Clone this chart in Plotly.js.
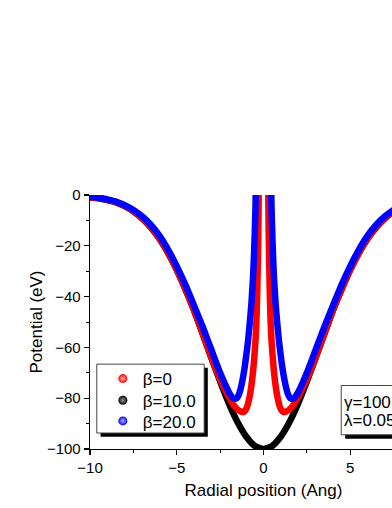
<!DOCTYPE html>
<html>
<head>
<meta charset="utf-8">
<script src="https://cdn.plot.ly/plotly-3.0.1.min.js"></script>
<style>
html, body { margin: 0; padding: 0; overflow: hidden; background: #fff; }
#plot { width: 460px; height: 508px; }
</style>
</head>
<body>
<div id="plot"></div>
<script>
// beta = 10.0 (black)
var xBlack = [-10,-9.5,-9,-8.5,-8,-7.5,-7,-6.5,-6,-5.5,-5,-4.5,-4,-3.5,-3,-2.5,-2,-1.5,-1,-0.5,0,
              0.5,1,1.5,2,2.5,3,3.5,4,4.5,5,5.5,6,6.5,7,7.5,8,8.5,9,9.5,10];
var yBlack = [-1.0,-1.3,-2.0,-2.9,-4.4,-6.4,-9.2,-12.7,-17.2,-22.8,-29.5,-37.2,-45.5,-54.8,-64.2,-73.4,-82.0,-89.4,-95.1,-98.8,-100,
              -98.8,-95.1,-89.4,-82.0,-73.4,-64.2,-54.8,-45.5,-37.2,-29.5,-22.8,-17.2,-12.7,-9.2,-6.4,-4.4,-2.9,-2.0,-1.3,-1.0];

// beta = 0 (red)
var xRed = [-10,-9.5,-9,-8.5,-8,-7.5,-7,-6.5,-6,-5.5,-5,-4.5,-4,-3.5,-3,-2.5,-2,-1.75,-1.5,-1.35,-1.25,-1.15,-1.05,-0.95,-0.85,-0.75,-0.65,-0.55,-0.45,-0.4,-0.36,-0.32,-0.29,-0.27,
            null,
            0.27,0.29,0.32,0.36,0.4,0.45,0.55,0.65,0.75,0.85,0.95,1.05,1.15,1.25,1.35,1.5,1.75,2,2.5,3,3.5,4,4.5,5,5.5,6,6.5,7,7.5,8,8.5,9,9.5,10];
var yRed = [-0.9,-1.2,-1.9,-2.8,-4.3,-6.3,-9.1,-12.6,-17.1,-22.7,-29.4,-37.1,-45.4,-54.7,-64,-72.6,-79.5,-82.4,-84.4,-85.1,-85.4,-85.4,-84.8,-83.5,-81,-77.5,-72.5,-65.5,-56,-48,-38,-24,-10,5,
            null,
            5,-10,-24,-38,-48,-56,-65.5,-72.5,-77.5,-81,-83.5,-84.8,-85.4,-85.4,-85.1,-84.4,-82.4,-79.5,-72.6,-64,-54.7,-45.4,-37.1,-29.4,-22.7,-17.1,-12.6,-9.1,-6.3,-4.3,-2.8,-1.9,-1.2,-0.9];

// beta = 20.0 (blue)
var xBlue = [-10,-9.5,-9,-8.5,-8,-7.5,-7,-6.5,-6,-5.5,-5,-4.5,-4,-3.5,-3,-2.75,-2.5,-2.25,-2,-1.8,-1.7,-1.6,-1.5,-1.4,-1.3,-1.2,-1.1,-1,-0.9,-0.8,-0.7,-0.6,-0.55,-0.5,-0.46,-0.44,
             null,
             0.44,0.46,0.5,0.55,0.6,0.7,0.8,0.9,1,1.1,1.2,1.3,1.4,1.5,1.6,1.7,1.8,2,2.25,2.5,2.75,3,3.5,4,4.5,5,5.5,6,6.5,7,7.5,8,8.5,9,9.5,10];
var yBlue = [-0.7,-1.1,-1.7,-2.6,-4,-5.9,-8.4,-11.7,-16,-21.5,-28,-35.4,-43.6,-52,-61,-65.6,-70,-74,-77.6,-79.7,-80.2,-80.2,-79.6,-78.2,-75.8,-72.5,-68.5,-63.5,-58,-51,-43,-32,-24,-14,-4,5,
             null,
             5,-4,-14,-24,-32,-43,-51,-58,-63.5,-68.5,-72.5,-75.8,-78.2,-79.6,-80.2,-80.2,-79.7,-77.6,-74,-70,-65.6,-61,-52,-43.6,-35.4,-28,-21.5,-16,-11.7,-8.4,-5.9,-4,-2.6,-1.7,-1.1,-0.7];

var names = ['\u03b2=0', '\u03b2=10.0', '\u03b2=20.0'];
var colors = ['#ff0000', '#000000', '#0000ff'];
var shine = ['#ffb0b0', '#9a9a9a', '#b0b0ff'];
var keyRows = [0.3462, 0.2612, 0.1798];   // top of each legend row, paper units

var font = 'Liberation Sans, Arial, sans-serif';

function curve(x, y, c) {
  return {x: x, y: y, mode: 'lines', showlegend: false, hoverinfo: 'skip',
          line: {color: c, width: 6.5, shape: 'spline', smoothing: 0.6}};
}

// legend-only entries with shaded ball markers, one legend per row
function key(i) {
  return {x: [null], y: [null], mode: 'markers', name: names[i],
          legend: i === 0 ? 'legend' : 'legend' + (i + 1),
          marker: {color: colors[i], size: 9, gradient: {type: 'radial', color: shine[i]}}};
}

function legendRow(i) {
  return {x: 0.037, y: keyRows[i], xanchor: 'left', yanchor: 'top',
          bgcolor: 'rgba(0,0,0,0)', borderwidth: 0,
          font: {family: font, size: 17, color: '#000'}, itemwidth: 30};
}

var traces = [
  curve(xBlack, yBlack, colors[1]),
  curve(xRed, yRed, colors[0]),
  curve(xBlue, yBlue, colors[2]),
  key(0), key(1), key(2)
];

var axis = {
  showline: true, linecolor: '#000', linewidth: 1.3, mirror: false,
  ticks: 'outside', ticklen: 5, tickwidth: 1.2, tickcolor: '#000',
  showgrid: false, zeroline: false,
  tickfont: {family: font, size: 15, color: '#000'}
};

var layout = {
  width: 460, height: 508,
  margin: {l: 90, r: 23, t: 195, b: 59},
  paper_bgcolor: '#fff', plot_bgcolor: '#fff',
  font: {family: font, color: '#000'},
  xaxis: Object.assign({}, axis, {
    range: [-10, 10], tickvals: [-10, -5, 0, 5],
    minor: {dtick: 2.5, ticklen: 3, tickwidth: 1, tickcolor: '#000', ticks: 'outside'},
    title: {text: 'Radial position (Ang)', font: {family: font, size: 17, color: '#000'}, standoff: 8}
  }),
  yaxis: Object.assign({}, axis, {
    range: [-100, 0], dtick: 20, tick0: 0,
    minor: {dtick: 10, ticklen: 3, tickwidth: 1, tickcolor: '#000', ticks: 'outside'},
    title: {text: 'Potential (eV)', font: {family: font, size: 17, color: '#000'}, standoff: 0}
  }),
  showlegend: true,
  legend: legendRow(0),
  legend2: legendRow(1),
  legend3: legendRow(2),
  shapes: [
    // legend shadow and box
    {type: 'rect', xref: 'x', yref: 'y', x0: -9.39, x1: -3.21, y0: -68.0, y1: -95.2,
     fillcolor: '#000', line: {width: 0}, layer: 'above'},
    {type: 'rect', xref: 'x', yref: 'y', x0: -9.61, x1: -3.42, y0: -66.6, y1: -93.7,
     fillcolor: '#fff', line: {color: '#444', width: 1}, layer: 'above'},
    // parameter box shadow and box
    {type: 'rect', xref: 'x', yref: 'y', x0: 4.71, x1: 8.41, y0: -76.6, y1: -96.0,
     fillcolor: '#000', line: {width: 0}, layer: 'above'},
    {type: 'rect', xref: 'x', yref: 'y', x0: 4.48, x1: 8.18, y0: -75.0, y1: -94.4,
     fillcolor: '#fff', line: {color: '#444', width: 1}, layer: 'above'}
  ],
  annotations: [
    {xref: 'x', yref: 'y', x: 4.55, y: -81.6, xanchor: 'left', showarrow: false,
     text: '\u03b3=100', font: {family: font, size: 17, color: '#000'}},
    {xref: 'x', yref: 'y', x: 4.55, y: -88.8, xanchor: 'left', showarrow: false,
     text: '\u03bb=0.05', font: {family: font, size: 17, color: '#000'}}
  ]
};

Plotly.newPlot('plot', traces, layout, {displayModeBar: false, staticPlot: true});
</script>
</body>
</html>
